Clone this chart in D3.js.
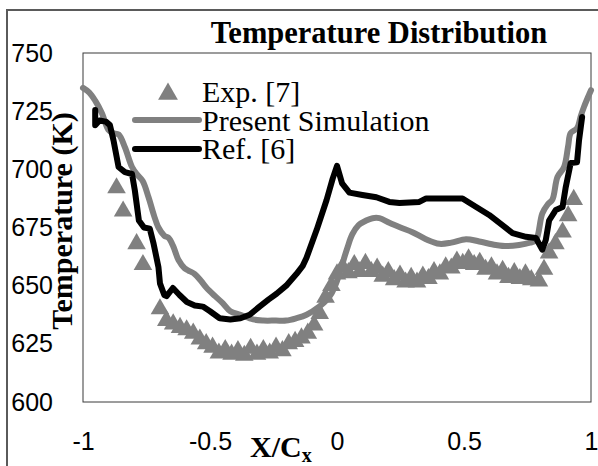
<!DOCTYPE html>
<html>
<head>
<meta charset="utf-8">
<script src="https://cdn.jsdelivr.net/npm/d3@7"></script>
<style>
  body { margin: 0; background: #fff; }
  .serif { font-family: "Liberation Serif", "Times New Roman", serif; }
  .axis text { font-family: "Liberation Sans", Arial, sans-serif; font-size: 25px; fill: #000; }
</style>
</head>
<body>
<div id="chart"></div>
<script>
const WIDTH = 598;
const HEIGHT = 466;
const PLOT = { left: 83, right: 591, top: 53, bottom: 402 };

// tick labels
const xTicks = [-1, -0.5, 0, 0.5, 1];
const yTicks = [600, 625, 650, 675, 700, 725, 750];

// Exp. [7] (triangles)
const expX = [-0.868, -0.842, -0.789, -0.764, -0.697, -0.672, -0.645, -0.618, -0.592, -0.566,
    -0.54, -0.515, -0.49, -0.465, -0.44, -0.415, -0.39, -0.365, -0.34, -0.315,
    -0.29, -0.265, -0.24, -0.215, -0.19, -0.165, -0.14, -0.115, -0.09, -0.068,
    -0.045, -0.022, 0.0, 0.022, 0.045, 0.068, 0.09, 0.112, 0.135, 0.158,
    0.18, 0.202, 0.225, 0.248, 0.27, 0.292, 0.315, 0.338, 0.36, 0.382,
    0.405, 0.428, 0.45, 0.472, 0.495, 0.518, 0.54, 0.562, 0.585, 0.608,
    0.63, 0.652, 0.675, 0.698, 0.72, 0.742, 0.765, 0.795, 0.815, 0.835,
    0.86, 0.888, 0.91, 0.932];
const expT = [692, 682, 668, 659, 640, 635, 633.5, 632, 631, 629.5,
    627, 625, 623.5, 621, 622.5, 620.5, 622, 620, 623, 620.5,
    622.5, 621, 623.5, 622, 625, 626, 627.5, 629.5, 633, 638,
    645, 650, 655, 658, 655.5, 659, 656, 659.5, 656, 657.5,
    654, 656, 652.5, 654.5, 651.5, 653.5, 651.5, 654, 653, 656,
    655, 658, 657.5, 660.5, 659.5, 661.5, 659, 660, 657, 658,
    655, 656.5, 653.5, 655.5, 653, 655, 652.5, 652, 657, 664,
    668, 673, 680, 687];

// Present Simulation (grey line)
const simX = [-1, -0.975, -0.952, -0.925, -0.9, -0.88, -0.86, -0.835, -0.807, -0.785,
    -0.765, -0.742, -0.72, -0.703, -0.68, -0.663, -0.645, -0.624, -0.6, -0.585,
    -0.56, -0.535, -0.513, -0.48, -0.45, -0.42, -0.38, -0.33, -0.29, -0.24,
    -0.2, -0.16, -0.12, -0.07, -0.04, -0.02, 0.0, 0.02, 0.04, 0.06,
    0.085, 0.115, 0.14, 0.167, 0.206, 0.25, 0.297, 0.35, 0.403, 0.45,
    0.508, 0.56, 0.625, 0.67, 0.717, 0.76, 0.783, 0.808, 0.83, 0.848,
    0.868, 0.894, 0.91, 0.92, 0.945, 0.96, 0.973, 0.992, 1.0];
const simT = [735, 733, 729.5, 724, 717, 715.5, 715, 709.5, 701, 697.5,
    695, 688, 680, 675, 671.5, 670.5, 667, 661, 657.5, 656.5,
    655, 652, 649, 645.5, 642.5, 639, 637.5, 635.5, 635, 635,
    635, 636, 637.5, 641, 644, 647, 652, 659, 666, 672,
    676, 678, 679, 679, 677, 675, 673, 670, 668, 668.5,
    670, 669, 667.5, 667, 667.5, 668.5, 669.5, 681, 685, 687,
    696.7, 701, 710, 715.6, 717.7, 723, 727, 732, 734];

// Ref. [6] (black line)
const refX = [-0.952, -0.952, -0.935, -0.91, -0.894, -0.88, -0.86, -0.835, -0.807, -0.796,
    -0.78, -0.76, -0.737, -0.722, -0.703, -0.697, -0.68, -0.671, -0.646, -0.62,
    -0.591, -0.56, -0.528, -0.5, -0.462, -0.42, -0.38, -0.344, -0.305, -0.27,
    -0.238, -0.2, -0.16, -0.135, -0.12, -0.08, -0.041, -0.017, 0.0, 0.02,
    0.049, 0.1, 0.155, 0.206, 0.246, 0.324, 0.351, 0.43, 0.494, 0.548,
    0.599, 0.651, 0.691, 0.744, 0.783, 0.808, 0.822, 0.835, 0.861, 0.888,
    0.9, 0.92, 0.945, 0.953, 0.965];
const refT = [725.5, 719, 721, 720.5, 719, 712.5, 701, 698.8, 698, 691,
    678, 675, 674.5, 668, 658, 651, 646, 645.5, 649, 646,
    643, 641.5, 641, 639, 636, 635.5, 636, 637.5, 641, 644,
    646.5, 650, 655, 658.5, 662, 674, 686.8, 696, 701.5, 694,
    690, 689, 688, 686, 685.5, 686, 687.5, 687.5, 687.5, 683.8,
    680.4, 676, 672.6, 671, 670.5, 665.5, 669.6, 678, 682.5, 683.8,
    692, 702.7, 703, 712.6, 722.5];

const GREY = "#808080";

var svg = d3.select("#chart")
    .append("svg")
    .attr("width", WIDTH)
    .attr("height", HEIGHT);

var x_scale = d3.scaleLinear().domain([-1, 1]).range([PLOT.left, PLOT.right]);
var y_scale = d3.scaleLinear().domain([600, 750]).range([PLOT.bottom, PLOT.top]);

// outer frame (only top and left edges fall inside the picture)
svg.append("path")
    .attr("d", "M7," + HEIGHT + "V10H" + WIDTH)
    .attr("fill", "none")
    .attr("stroke", "#5a5a5a")
    .attr("stroke-width", 2);

// plot border
svg.append("rect")
    .attr("x", PLOT.left)
    .attr("y", PLOT.top)
    .attr("width", PLOT.right - PLOT.left)
    .attr("height", PLOT.bottom - PLOT.top)
    .attr("fill", "none")
    .attr("stroke", "#3a3a3a")
    .attr("stroke-width", 1);

// axes, labels only (plain hyphen for negatives, as in the original)
var xAxis = d3.axisBottom(x_scale).tickValues(xTicks).tickSize(0).tickPadding(30)
    .tickFormat(d => String(d));
svg.append("g")
    .attr("class", "axis")
    .attr("transform", "translate(0," + PLOT.bottom + ")")
    .call(xAxis)
    .call(g => g.select(".domain").remove());

var yAxis = d3.axisLeft(y_scale).tickValues(yTicks).tickSize(0).tickPadding(30);
svg.append("g")
    .attr("class", "axis")
    .attr("transform", "translate(" + PLOT.left + ",0)")
    .call(yAxis)
    .call(g => g.select(".domain").remove());

// Exp. [7]
var tri = d3.symbol().type(d3.symbolTriangle).size(150);
svg.append("g")
    .selectAll("path")
    .data(expX.map((x, i) => [x, expT[i]]))
    .enter()
    .append("path")
    .attr("d", tri)
    .attr("transform", d => "translate(" + x_scale(d[0]) + "," + y_scale(d[1]) + ")")
    .attr("fill", GREY);

// Present Simulation
var simLine = d3.line()
    .x(d => x_scale(d[0]))
    .y(d => y_scale(d[1]))
    .curve(d3.curveCatmullRom.alpha(0.5));
svg.append("path")
    .datum(simX.map((x, i) => [x, simT[i]]))
    .attr("d", simLine)
    .attr("fill", "none")
    .attr("stroke", GREY)
    .attr("stroke-width", 6)
    .attr("stroke-linejoin", "round")
    .attr("stroke-linecap", "round");

// Ref. [6]
var refLine = d3.line()
    .x(d => x_scale(d[0]))
    .y(d => y_scale(d[1]));
svg.append("path")
    .datum(refX.map((x, i) => [x, refT[i]]))
    .attr("d", refLine)
    .attr("fill", "none")
    .attr("stroke", "#000")
    .attr("stroke-width", 6)
    .attr("stroke-linejoin", "round")
    .attr("stroke-linecap", "round");

// title
svg.append("text")
    .attr("class", "serif")
    .attr("x", 379)
    .attr("y", 43)
    .attr("text-anchor", "middle")
    .attr("font-size", 30.5)
    .attr("font-weight", "bold")
    .text("Temperature Distribution");

// y axis title
svg.append("text")
    .attr("class", "serif")
    .attr("transform", "translate(72,221) rotate(-90)")
    .attr("text-anchor", "middle")
    .attr("font-size", 30)
    .attr("font-weight", "bold")
    .text("Temperature (K)");

// x axis title
var xt = svg.append("text")
    .attr("class", "serif")
    .attr("x", 250)
    .attr("y", 457)
    .attr("font-size", 30)
    .attr("font-weight", "bold");
xt.append("tspan").text("X/C");
xt.append("tspan").attr("font-size", 20).attr("dy", 5).text("x");

// legend
var legend = svg.append("g");
legend.append("path")
    .attr("d", d3.symbol().type(d3.symbolTriangle).size(170))
    .attr("transform", "translate(168,94)")
    .attr("fill", GREY);
legend.append("line")
    .attr("x1", 135).attr("x2", 199).attr("y1", 120).attr("y2", 120)
    .attr("stroke", GREY).attr("stroke-width", 6).attr("stroke-linecap", "round");
legend.append("line")
    .attr("x1", 135).attr("x2", 199).attr("y1", 149).attr("y2", 149)
    .attr("stroke", "#000").attr("stroke-width", 6).attr("stroke-linecap", "round");

var legendLabels = ["Exp. [7]", "Present Simulation", "Ref. [6]"];
var legendBase = [102, 131, 159];
legend.selectAll("text.lab")
    .data(legendLabels)
    .enter()
    .append("text")
    .attr("class", "serif lab")
    .attr("x", 202)
    .attr("y", (d, i) => legendBase[i])
    .attr("font-size", 30)
    .text(d => d);
</script>
</body>
</html>
